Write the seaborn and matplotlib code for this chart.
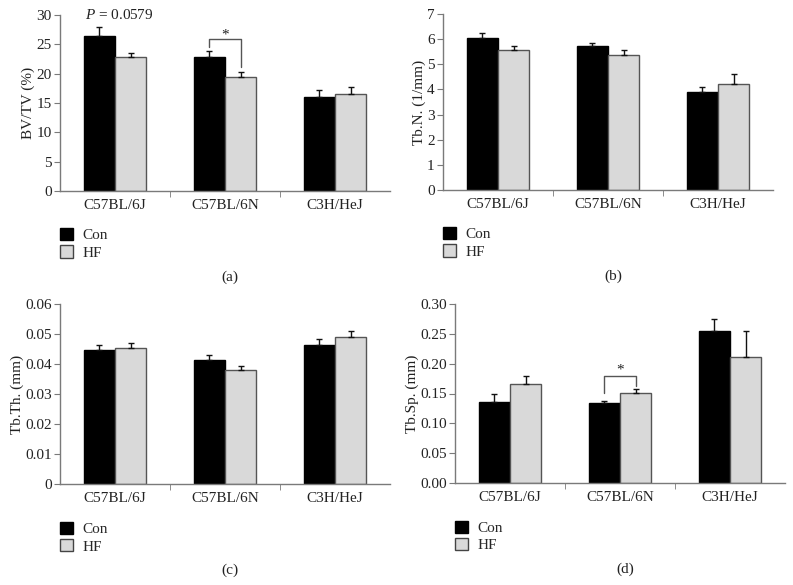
import matplotlib
matplotlib.use("Agg")
import matplotlib.pyplot as plt
import seaborn as sns
import pandas as pd
import numpy as np

sns.set_style("white")
plt.rcParams['font.family'] = ['Liberation Serif', 'DejaVu Serif']
plt.rcParams['mathtext.fontset'] = 'custom'
plt.rcParams['mathtext.it'] = 'Liberation Serif:italic'
plt.rcParams['mathtext.rm'] = 'Liberation Serif'

strains = ["C57BL/6J", "C57BL/6N", "C3H/HeJ"]
groups = ["Con", "HF"]

bvtv_con = [26.4, 22.8, 16.1]
bvtv_hf = [22.9, 19.5, 16.6]
bvtv_con_err = [1.5, 1.1, 1.1]
bvtv_hf_err = [0.7, 0.7, 1.2]

tbn_con = [6.06, 5.72, 3.91]
tbn_hf = [5.55, 5.35, 4.23]
tbn_con_err = [0.19, 0.11, 0.20]
tbn_hf_err = [0.18, 0.21, 0.39]

tbth_con = [0.0448, 0.0413, 0.0462]
tbth_hf = [0.0452, 0.0380, 0.0490]
tbth_con_err = [0.0016, 0.0018, 0.0022]
tbth_hf_err = [0.0019, 0.0012, 0.0020]

tbsp_con = [0.136, 0.134, 0.254]
tbsp_hf = [0.166, 0.151, 0.212]
tbsp_con_err = [0.013, 0.004, 0.021]
tbsp_hf_err = [0.014, 0.007, 0.042]

ylabels = ["BV/TV (%)", "Tb.N. (1/mm)", "Tb.Th. (mm)", "Tb.Sp. (mm)"]
ylims = [(0, 30), (0, 7), (0, 0.06), (0, 0.30)]
yticks = [np.arange(0, 31, 5), np.arange(0, 8, 1), np.arange(0, 0.061, 0.01), np.arange(0, 0.301, 0.05)]
yfmts = ["{:.0f}", "{:.0f}", "{:g}", "{:.2f}"]
panel_labels = ["(a)", "(b)", "(c)", "(d)"]

datasets = [
    (bvtv_con, bvtv_hf, bvtv_con_err, bvtv_hf_err),
    (tbn_con, tbn_hf, tbn_con_err, tbn_hf_err),
    (tbth_con, tbth_hf, tbth_con_err, tbth_hf_err),
    (tbsp_con, tbsp_hf, tbsp_con_err, tbsp_hf_err),
]

W, H = 793, 585
rects = [(60, 390, 15, 191), (443, 773, 14, 190), (60, 390, 304, 484), (455, 785, 304, 483)]

fig = plt.figure(figsize=(W / 100, H / 100), dpi=100)
spine_col = "#7a7a7a"
txt_col = "#222222"
FS = 11
palette = {"Con": "#000000", "HF": "#d9d9d9"}

for i, (rect, data) in enumerate(zip(rects, datasets)):
    l, r, t, b = rect
    ax = fig.add_axes([l / W, 1 - b / H, (r - l) / W, (b - t) / H])
    con, hf, con_e, hf_e = data
    df = pd.DataFrame({
        "strain": strains * 2,
        "group": ["Con"] * 3 + ["HF"] * 3,
        "value": list(con) + list(hf),
        "err": list(con_e) + list(hf_e),
    })
    sns.barplot(data=df, x="strain", y="value", hue="group", order=strains,
                hue_order=groups, palette=palette, width=0.565, errorbar=None,
                ax=ax, legend=False, linewidth=1.0, edgecolor="#555555", saturation=1)
    patches = [p for p in ax.patches]
    for p, (_, row) in zip(patches, df.iterrows()):
        xc = p.get_x() + p.get_width() / 2
        ax.errorbar([xc], [row["value"]], yerr=[[0], [row["err"]]], fmt="none",
                    ecolor="#111111", elinewidth=1.0, capsize=2.5, capthick=1.0, zorder=3)
        if row["group"] == "Con":
            p.set_edgecolor("#000000")
    ax.set_xlim(-0.5, 2.5)
    ax.set_ylim(*ylims[i])
    ax.set_yticks(yticks[i])
    ax.set_yticklabels([yfmts[i].format(v) for v in yticks[i]])
    ax.set_xlabel("")
    ax.set_ylabel(ylabels[i], fontsize=FS, color=txt_col, labelpad=1)
    for s in ["top", "right"]:
        ax.spines[s].set_visible(False)
    for s in ["left", "bottom"]:
        ax.spines[s].set_color(spine_col)
        ax.spines[s].set_linewidth(1.0)
    ax.tick_params(axis="y", which="major", direction="out", length=4, color=spine_col,
                   labelsize=FS, labelcolor=txt_col, left=True, pad=2)
    ax.tick_params(axis="x", which="major", length=0, labelsize=FS, labelcolor=txt_col, pad=6)
    ax.set_xticks([0.5, 1.5], minor=True)
    ax.tick_params(axis="x", which="minor", direction="out", length=4, color=spine_col, bottom=True)

    handles = [plt.Rectangle((0, 0), 1, 1, facecolor=palette["Con"], edgecolor="#000000", linewidth=1.0),
               plt.Rectangle((0, 0), 1, 1, facecolor=palette["HF"], edgecolor="#444444", linewidth=1.0)]
    ax.legend(handles, groups, loc="upper left", bbox_to_anchor=(0.0, -0.21),
              frameon=False, fontsize=FS, handlelength=0.85, handleheight=0.85,
              handletextpad=0.6, labelspacing=0.2, borderaxespad=0, borderpad=0)
    fig.text(((l + r) / 2 + 5) / W, 1 - (b + 86) / H, panel_labels[i], ha="center", va="center",
             fontsize=FS, color=txt_col)

    if i == 0:
        ax.text(0.04, 30, r"$\it{P}$ = 0.0579", ha="center", va="center", fontsize=FS, color=txt_col)
        x1 = patches[1].get_x() + patches[1].get_width() / 2
        x2 = patches[4].get_x() + patches[4].get_width() / 2
        ax.plot([x1, x1, x2, x2], [24.6, 25.85, 25.85, 21.2], color="#555555", lw=1.0)
        ax.text((x1 + x2) / 2, 26.6, "*", ha="center", va="center", fontsize=FS, color=txt_col)
    if i == 3:
        x1 = patches[1].get_x() + patches[1].get_width() / 2
        x2 = patches[4].get_x() + patches[4].get_width() / 2
        ax.plot([x1, x1, x2, x2], [0.151, 0.180, 0.180, 0.162], color="#555555", lw=1.0)
        ax.text((x1 + x2) / 2, 0.190, "*", ha="center", va="center", fontsize=FS, color=txt_col)

fig.savefig("out.png", dpi=100)
